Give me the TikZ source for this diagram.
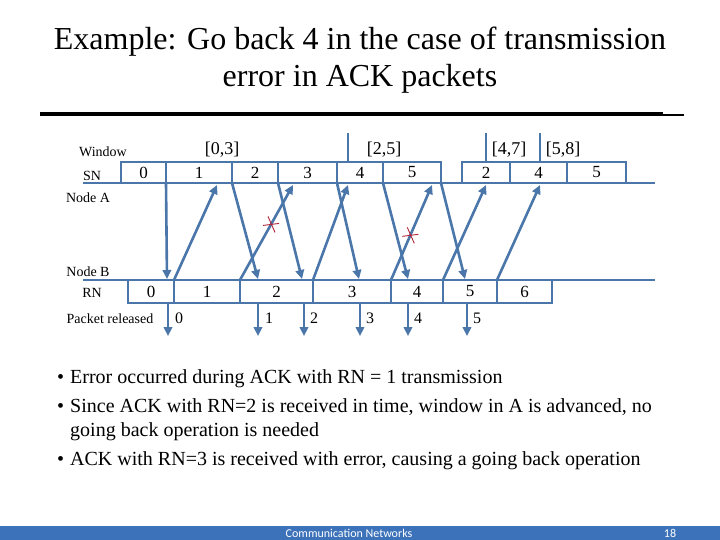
\documentclass[tikz,border=0pt]{standalone}
\usepackage{fontspec}
\setmainfont{Liberation Serif}
\newfontfamily\footfont{Carlito}
\usetikzlibrary{arrows.meta,positioning}
\definecolor{linkblue}{RGB}{74,118,170}
\definecolor{errred}{RGB}{178,34,52}
\definecolor{barblue}{RGB}{60,114,186}

\begin{document}
\begin{tikzpicture}[
  x=1pt, y=-1pt,
  seqbox/.style={
    draw=linkblue,
    line width=2.6pt,
    outer sep=0pt,
    inner sep=0pt,
    minimum height=21pt,
    font=\fontsize{17}{17}\selectfont
  },
  rnbox/.style={seqbox, minimum height=23pt},
  lbl/.style={font=\fontsize{14}{14}\selectfont},
  winlbl/.style={font=\fontsize{18}{18}\selectfont},
  numlbl/.style={font=\fontsize{16}{16}\selectfont},
  timeline/.style={linkblue, line width=2.6pt},
  arrow/.style={-{Triangle[length=9pt,width=8.5pt]}, linkblue, line width=2.6pt},
  cross/.style={errred, line width=0.9pt},
  bullet/.style={anchor=base west, inner sep=0pt, font=\fontsize{20}{24}\selectfont}
]
\useasboundingbox (0,0) rectangle (720,540);

% title
\node[font=\fontsize{32}{37}\selectfont, align=center] (title) at (360,60)
  {Example: Go back 4 in the case of transmission\\error in ACK packets};
\draw[line width=3.5pt] (40,114) -- (663,114);
\draw[line width=2.5pt] (640,115) -- (684,115);

% time lines
\coordinate (aL) at (83,183);
\coordinate (aR) at (655,183);
\coordinate (bL) at (83,280);
\coordinate (bR) at (655,280);
\draw[timeline] (aL) -- (aR);
\draw[timeline] (bL) -- (bR);

% node A: sequence numbers
\node[seqbox, minimum width=45pt] (sn0) at (143.5,172.5) {0};
\node[seqbox, minimum width=66pt, right=0pt of sn0] (sn1) {1};
\node[seqbox, minimum width=46pt, right=0pt of sn1] (sn2) {2};
\node[seqbox, minimum width=59pt, right=0pt of sn2] (sn3) {3};
\node[seqbox, minimum width=46pt, right=0pt of sn3] (sn4) {4};
\node[seqbox, minimum width=58pt, right=0pt of sn4] (sn5) {5};
\node[seqbox, minimum width=48pt, right=21pt of sn5] (sn6) {2};
\node[seqbox, minimum width=57pt, right=0pt of sn6] (sn7) {4};
\node[seqbox, minimum width=59pt, right=0pt of sn7] (sn8) {5};

% node B: request numbers
\node[rnbox, minimum width=46pt] (rn0) at (151,291.5) {0};
\node[rnbox, minimum width=66pt, right=0pt of rn0] (rn1) {1};
\node[rnbox, minimum width=73pt, right=0pt of rn1] (rn2) {2};
\node[rnbox, minimum width=78pt, right=0pt of rn2] (rn3) {3};
\node[rnbox, minimum width=52pt, right=0pt of rn3] (rn4) {4};
\node[rnbox, minimum width=54pt, right=0pt of rn4] (rn5) {5};
\node[rnbox, minimum width=55pt, right=0pt of rn5] (rn6) {6};

% row labels
\node[lbl] (window) at (103,152) {Window};
\node[lbl] (snlbl) at (92,176) {SN};
\node[lbl] (nodeA) at (88,198) {Node A};
\node[lbl] (nodeB) at (88,272) {Node B};
\node[lbl] (rnlbl) at (92,293) {RN};
\node[lbl] (released) at (110,319) {Packet released};

% windows
\coordinate (w25) at (348,133);
\coordinate (w47) at (486,133);
\coordinate (w58) at (540,133);
\draw[timeline] (w25) -- (w25 |- sn4.north);
\draw[timeline] (w47) -- (w47 |- sn6.north);
\draw[timeline] (w58) -- (w58 |- sn7.north);
\node[winlbl] (win03) at (222,150) {[0,3]};
\node[winlbl] (win25) at (384,150) {[2,5]};
\node[winlbl] (win47) at (509,150) {[4,7]};
\node[winlbl] (win58) at (563,150) {[5,8]};

% frames A -> B
\coordinate (in0) at (167,279);
\coordinate (in1) at (258,279);
\coordinate (in2) at (302,279);
\coordinate (in3) at (359,279);
\coordinate (in4) at (408,279);
\coordinate (in5) at (465,279);
\draw[arrow] (sn0.south east) -- (in0);
\draw[arrow] (sn1.south east) -- (in1);
\draw[arrow] (sn2.south east) -- (in2);
\draw[arrow] (sn3.south east) -- (in3);
\draw[arrow] (sn4.south east) -- (in4);
\draw[arrow] (sn5.south east) -- (in5);

% acks B -> A
\coordinate (ack1) at (217,185);
\coordinate (ack2) at (293,185);
\coordinate (ack3) at (348,185);
\coordinate (ack4) at (432,185);
\coordinate (ack5) at (486,185);
\coordinate (ack6) at (540,185);
\draw[arrow] (rn1.north west) -- (ack1);
\draw[arrow] (rn2.north west) -- (ack2) coordinate[pos=0.585] (err1);
\draw[arrow] (rn3.north west) -- (ack3);
\draw[arrow] (rn4.north west) -- (ack4) coordinate[pos=0.47] (err2);
\draw[arrow] (rn5.north west) -- (ack5);
\draw[arrow] (rn6.north west) -- (ack6);

% errors
\draw[cross] ([shift={(-8,1)}]err1) -- ([shift={(8,-1)}]err1);
\draw[cross] ([shift={(-3,-8)}]err1) -- ([shift={(4,8)}]err1);
\draw[cross] ([shift={(-8,1)}]err2) -- ([shift={(8,-1)}]err2);
\draw[cross] ([shift={(-3,-8)}]err2) -- ([shift={(4,8)}]err2);

% released packets
\coordinate (out0) at (168,336);
\coordinate (out1) at (258,336);
\coordinate (out2) at (304,336);
\coordinate (out3) at (360,336);
\coordinate (out4) at (408,336);
\coordinate (out5) at (467,336);
\draw[arrow] (out0 |- rn0.south) -- (out0);
\draw[arrow] (out1 |- rn2.south) -- (out1);
\draw[arrow] (out2 |- rn2.south) -- (out2);
\draw[arrow] (out3 |- rn3.south) -- (out3);
\draw[arrow] (out4 |- rn4.south) -- (out4);
\draw[arrow] (out5 |- rn5.south) -- (out5);
\node[numlbl] (rel0) at (179,318) {0};
\node[numlbl] (rel1) at (269,318) {1};
\node[numlbl] (rel2) at (314,318) {2};
\node[numlbl] (rel3) at (370,318) {3};
\node[numlbl] (rel4) at (418,318) {4};
\node[numlbl] (rel5) at (477,318) {5};

% notes
\node[bullet] (dot1) at (57,383) {•};
\node[bullet] (note1) at (70,383) {Error occurred during ACK with RN = 1 transmission};
\node[bullet] (dot2) at (57,412) {•};
\node[bullet] (note2) at (70,412) {Since ACK with RN=2 is received in time, window in A is advanced, no};
\node[bullet] (note2b) at (70,436) {going back operation is needed};
\node[bullet] (dot3) at (57,465) {•};
\node[bullet] (note3) at (70,465) {ACK with RN=3 is received with error, causing a going back operation};

% footer
\fill[barblue] (0,526) rectangle (720,540);
\node[font=\footfont\fontsize{12}{12}\selectfont, text=white] (footer) at (349,533) {Communication Networks};
\node[font=\footfont\fontsize{12}{12}\selectfont, text=white] (page) at (670,533) {18};
\end{tikzpicture}
\end{document}
